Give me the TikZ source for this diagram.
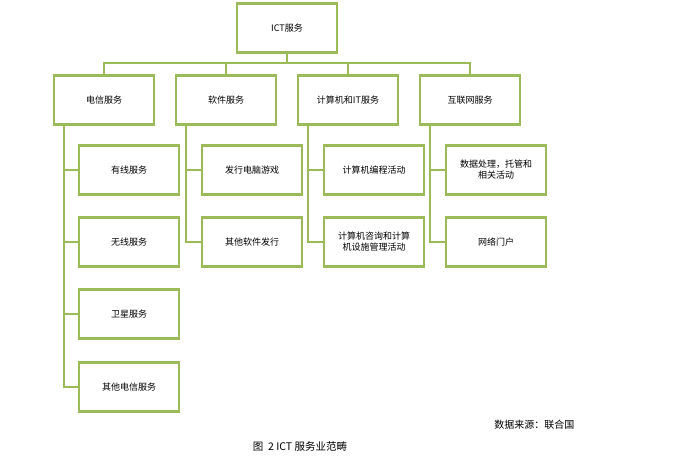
\documentclass[tikz,border=0pt]{standalone}
\usepackage{fontspec}
\setmainfont{Liberation Serif}
\newfontfamily\cjk{Noto Sans CJK SC}
\usetikzlibrary{positioning}
\definecolor{boxgreen}{RGB}{155,187,89}
\begin{document}
\begin{tikzpicture}[x=1pt,y=-1pt,
    font=\cjk\fontsize{9}{11}\selectfont,
    box/.style={draw=boxgreen, line width=2.2pt, minimum width=100pt,
                minimum height=49pt, inner sep=2pt, align=center},
    link/.style={draw=boxgreen, line width=2.2pt},
  ]
  \useasboundingbox (0,0) rectangle (673,464);

  % Root and main branches
  \node[box] (ict) at (287,28) {ICT服务};
  \node[box] (tel) at (104,100) {电信服务};
  \node[box] (sw)  at (226,100) {软件服务};
  \node[box] (it)  at (348,100) {计算机和IT服务};
  \node[box] (net) at (470,100) {互联网服务};

  \coordinate (bus) at (287,63);
  \draw[link] (ict.south) -- (bus);
  \draw[link] (tel.north) |- (bus) -| (net.north);
  \draw[link] (sw.north) -- (sw.north |- bus);
  \draw[link] (it.north) -- (it.north |- bus);

  % Children
  \node[box] (wired) at (129,170) {有线服务};
  \node[box] (wless) at (129,242) {无线服务};
  \node[box] (sat)   at (129,314) {卫星服务};
  \node[box] (otel)  at (129,387) {其他电信服务};
  \node[box] (game)  at (252,170) {发行电脑游戏};
  \node[box] (osw)   at (252,242) {其他软件发行};
  \node[box] (prog)  at (374,170) {计算机编程活动};
  \node[box] (cons)  at (374,242) {计算机咨询和计算\\机设施管理活动};
  \node[box] (data)  at (496,170) {数据处理，托管和\\相关活动};
  \node[box] (portal) at (496,242) {网络门户};

  \foreach \p/\x/\kids in {tel/64/{wired,wless,sat,otel},
                           sw/186/{game,osw},
                           it/308/{prog,cons},
                           net/430/{data,portal}} {
    \foreach \k in \kids {
      \draw[link] (\x,125) |- (\k.west);
    }
  }

  % Source and caption
  \node[anchor=east, font=\cjk\fontsize{10}{12}\selectfont] (src) at (578,425) {数据来源：联合国};
  \node[font=\cjk\fontsize{10.5}{12}\selectfont] (cap) at (300,447) {图\ \ 2 ICT 服务业范畴};
\end{tikzpicture}
\end{document}
